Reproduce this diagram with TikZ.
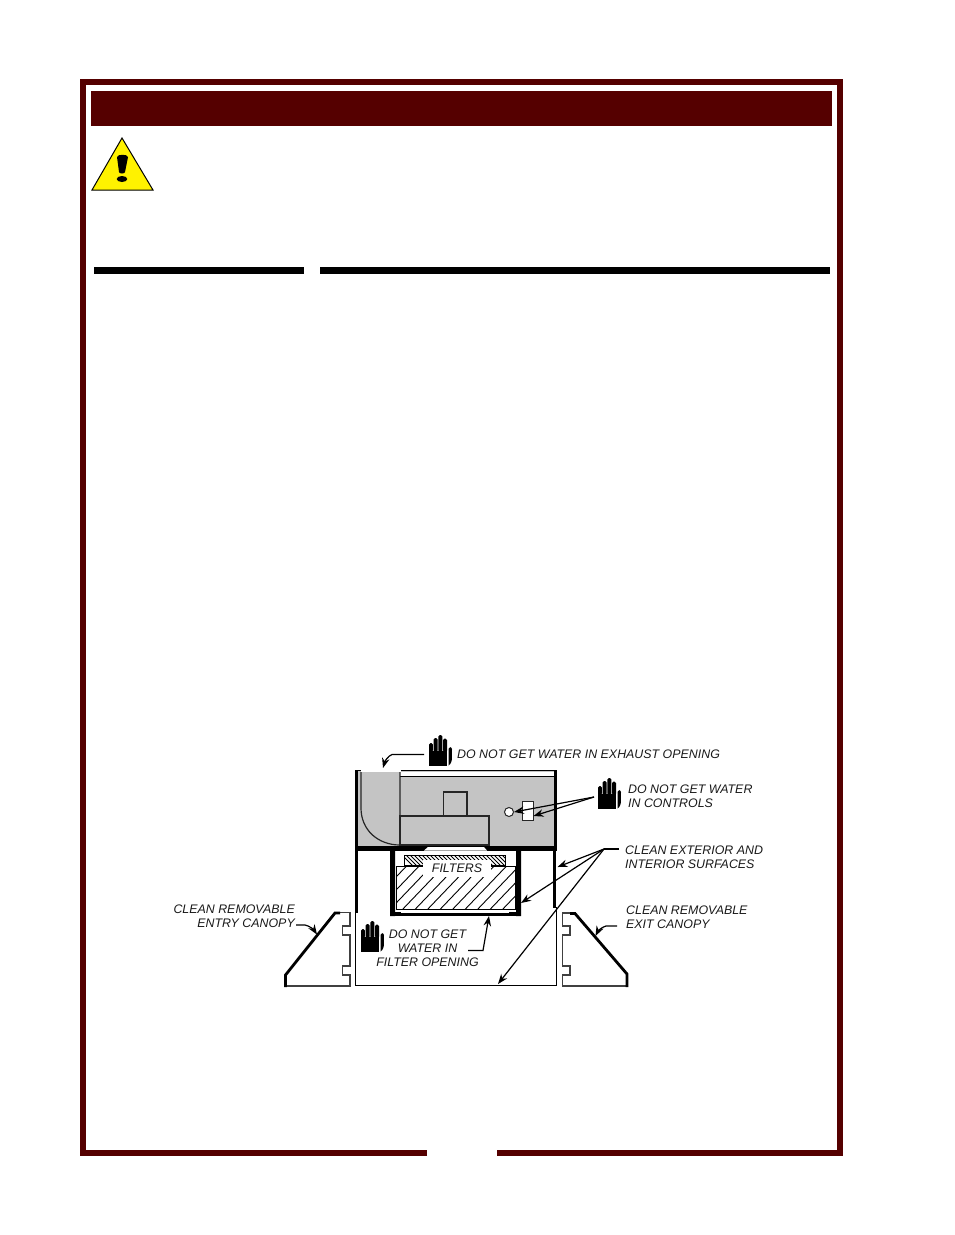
\documentclass[tikz,border=0pt]{standalone}
\usepackage{fontspec}
\setmainfont{Liberation Sans}
\usetikzlibrary{arrows.meta}
\definecolor{maroon}{HTML}{550000}
\definecolor{machgrey}{HTML}{C4C4C4}
\tikzset{
  x=1pt,y=-1pt,
  lbl/.style={font=\fontsize{12.4}{14}\selectfont\itshape,inner sep=0pt,text=black!90},
  thick line/.style={line width=3.2pt,black,line cap=butt},
  thin line/.style={line width=1.5pt,black},
  lead/.style={line width=1.2pt,black,-{Stealth[length=10pt,width=7.5pt]}},
  part/.style={draw=black!85,line width=1.2pt},
  pics/hand/.style={code={
    \fill[black] (0,16) rectangle (18,31);
    \fill[black,rounded corners=1.5pt] (0,8) rectangle (3.9,17);
    \fill[black,rounded corners=1.5pt] (4.7,3) rectangle (8.6,17);
    \fill[black,rounded corners=1.5pt] (9.4,0) rectangle (13.3,17);
    \fill[black,rounded corners=1.5pt] (14.1,3.5) rectangle (18,17);
    \fill[black] (19.5,14) .. controls (21,11.5) and (23,11.5) .. (23,14) -- (22.8,25) .. controls (22,29) and (20,30.5) .. (19.5,30.5) -- cycle;
  }}
}
\begin{document}
\begin{tikzpicture}
\useasboundingbox (0,0) rectangle (954,1235);
% page frame
\draw[maroon,line width=6pt,line cap=butt,line join=miter] (427,1152.5) -- (83,1152.5) -- (83,82) -- (840,82) -- (840,1152.5) -- (497,1152.5);
\fill[maroon] (91,91) rectangle (832,126);
% warning sign
\draw[black,fill=yellow,line width=1pt,line join=miter] (122,138) -- (153,190) -- (92,190) -- cycle;
\fill[black] (117,157) .. controls (117,154) and (128,154) .. (128,157) -- (125,172) .. controls (124.5,174) and (119.5,174) .. (119,172) -- cycle;
\fill[black] (122,179) ellipse [x radius=5.3,y radius=3];
% heading rules
\fill[black] (94,267) rectangle (304,274);
\fill[black] (320,267) rectangle (830,274);

% machine body
\fill[machgrey] (357,771) rectangle (555,847);
\fill[white] (400,771.5) rectangle (555,776);
\draw[black,line width=1.2pt] (400,776.6) -- (555,776.6);
\draw[black,line width=1.5pt] (355,770.7) -- (556,770.7);
\fill[white] (361,770) rectangle (401,772);
\draw[part] (361,772) -- (361,808) .. controls (361,830) and (378,845) .. (400,845) -- (400,772);
\draw[part] (400,816) rectangle (489,845);
\draw[part] (443.5,792) rectangle (467,816);
\node[draw=black!85,fill=white,circle,minimum size=9pt,inner sep=0pt,line width=1pt] (gauge) at (509,812) {};
\node[draw=black!85,fill=white,minimum width=11pt,minimum height=19pt,inner sep=0pt,line width=1pt] (control) at (527.5,810.5) {};
\fill[black] (355,770) rectangle (358,850);
\fill[black] (554,770) rectangle (556.5,850);
\fill[black] (355,846) rectangle (556.5,850.5);
\fill[white] (424,850.5) -- (428,847) -- (484,847) -- (487,850.5) -- cycle;

% lower cabinet
\draw[thick line] (356.5,850) -- (356.5,913);
\draw[thick line] (554.8,850) -- (554.8,908);
\draw[thin line] (355.5,912) -- (355.5,985.5) -- (556.5,985.5) -- (556.5,907);
% filter opening
\fill[black] (390,850) rectangle (395,916) (516,850) rectangle (521,916);
\fill[black] (390,911.5) rectangle (521,916);
\fill[white] (401,911) rectangle (509,913);
% filters
\begin{scope}
  \clip (404,855) rectangle (505,865);
  \foreach \i in {0,4,...,120} \draw[black,line width=.9pt] (400+\i,853) -- (400+\i+14,867);
\end{scope}
\draw[black,line width=.9pt] (404.5,855) rectangle (505,865);
\begin{scope}
  \clip (396,866.5) rectangle (515,909);
  \foreach \i in {0,12.5,...,175} \draw[black,line width=.9pt] (396+\i-45,911) -- (396+\i,864);
\end{scope}
\draw[black,line width=1pt] (396,866.5) rectangle (515,909);
\node[lbl,fill=white,minimum width=68pt,minimum height=17pt] (filters) at (457,868.5) {FILTERS};

% entry canopy
\draw[thin line,black!75] (340,912.5) -- (350,912.5) -- (350,926) -- (342.5,926) -- (342.5,935) -- (350,935) -- (350,966) -- (342.5,966) -- (342.5,975) -- (350,975) -- (350,986) -- (285,986);
\draw[black,line width=2.8pt,line cap=butt] (340,913) -- (335,913) -- (285.5,975) -- (285.5,987);
% exit canopy
\draw[thin line,black!75] (575,913) -- (562.5,913) -- (562.5,926) -- (570,926) -- (570,935) -- (562.5,935) -- (562.5,966) -- (570,966) -- (570,975) -- (562.5,975) -- (562.5,986) -- (628,986);
\draw[black,line width=2.8pt,line cap=butt] (570,913.5) -- (575,913.5) -- (627,974) -- (627,987);

% hands
\pic (handA) at (429,735) {hand};
\pic (handB) at (598,778) {hand};
\pic (handC) at (361,921) {hand};

% labels
\node[lbl,anchor=north west] (exhaust) at (457,750) {DO NOT GET WATER IN EXHAUST OPENING};
\node[lbl,anchor=north west,align=left] (controls) at (628,784.5) {DO NOT GET WATER\\IN CONTROLS};
\node[lbl,anchor=north west,align=left] (surfaces) at (625,845.3) {CLEAN EXTERIOR AND\\INTERIOR SURFACES};
\node[lbl,anchor=north west,align=left] (exitlbl) at (626,906) {CLEAN REMOVABLE\\EXIT CANOPY};
\node[lbl,anchor=north east,align=right] (entrylbl) at (295,904.3) {CLEAN REMOVABLE\\ENTRY CANOPY};
\node[lbl,anchor=north,align=center] (openlbl) at (427.5,929.5) {DO NOT GET\\WATER IN\\FILTER OPENING};

% leaders
\coordinate (a1) at (424,754.5);
\coordinate (a1t) at (383,768);
\draw[lead] (a1) -- (392,754.5) .. controls (388,756) and (385,761) .. (a1t);
\coordinate (b1) at (594,797);
\draw[lead] (b1) -- (gauge.east);
\draw[lead] (b1) -- (533.5,816);
\coordinate (c1) at (619,849);
\coordinate (c2) at (604,849);
\coordinate (c3) at (557.5,867);
\coordinate (c4) at (521,903);
\coordinate (c5) at (498,984);
\draw[line width=1.2pt,black] (c1) -- (c2);
\draw[lead] (c2) -- (c3);
\draw[lead] (c2) -- (c4);
\draw[lead] (c2) -- (c5);
\coordinate (d1) at (468,950.5);
\coordinate (d2) at (483,950.5);
\coordinate (d3) at (489,916);
\draw[lead] (d1) -- (d2) -- (d3);
\coordinate (e1) at (296,925);
\coordinate (e2) at (317,934.5);
\draw[lead] (e1) -- (305,925) .. controls (310,926) and (314,930) .. (e2);
\coordinate (f1) at (617,926);
\coordinate (f2) at (595.5,936);
\draw[lead] (f1) -- (606,926) .. controls (602,927) and (598,931) .. (f2);
\end{tikzpicture}
\end{document}
